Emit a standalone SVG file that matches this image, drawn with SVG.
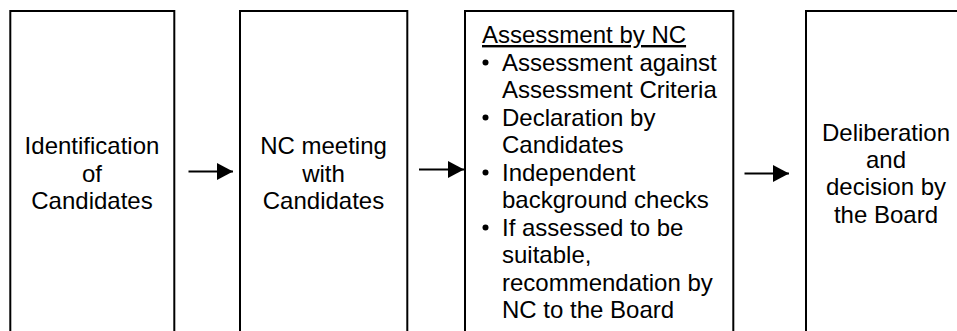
<svg xmlns="http://www.w3.org/2000/svg" width="957" height="331" viewBox="0 0 957 331">
<style>
.box{fill:#fff;stroke:#000;stroke-width:2}
.t{font-family:"Liberation Sans",Arial,sans-serif;font-size:24px;fill:#000}
.c{text-anchor:middle}
.conn{stroke:#000;stroke-width:2;fill:none}
</style>
<defs>
<marker id="ah" markerUnits="userSpaceOnUse" markerWidth="16" markerHeight="17" refX="16" refY="8.5" orient="auto">
<path d="M0,0 L16,8.5 L0,17 z" fill="#000"/>
</marker>
</defs>
<rect width="957" height="331" fill="#fff"/>
<g id="node-identification">
<rect class="box" x="10.3" y="11" width="164" height="340"/>
<text class="t c" x="92" y="154">Identification</text>
<text class="t c" x="92" y="181.5">of</text>
<text class="t c" x="92" y="209">Candidates</text>
</g>
<g id="node-nc-meeting">
<rect class="box" x="240" y="11" width="167.3" height="340"/>
<text class="t c" x="323.5" y="154">NC meeting</text>
<text class="t c" x="323.5" y="181.5">with</text>
<text class="t c" x="323.5" y="209">Candidates</text>
</g>
<g id="node-assessment">
<rect class="box" x="465" y="11" width="268.3" height="340"/>
<text class="t" x="482" y="43" text-decoration="underline">Assessment by NC</text>
<circle cx="485.5" cy="62.5" r="3"/>
<text class="t" x="502" y="70.5">Assessment against</text>
<text class="t" x="502" y="98">Assessment Criteria</text>
<circle cx="485.5" cy="117.5" r="3"/>
<text class="t" x="502" y="125.5">Declaration by</text>
<text class="t" x="502" y="153">Candidates</text>
<circle cx="485.5" cy="172.5" r="3"/>
<text class="t" x="502" y="180.5">Independent</text>
<text class="t" x="502" y="208">background checks</text>
<circle cx="485.5" cy="227.5" r="3"/>
<text class="t" x="502" y="235.5">If assessed to be</text>
<text class="t" x="502" y="263">suitable,</text>
<text class="t" x="502" y="290.5">recommendation by</text>
<text class="t" x="502" y="318">NC to the Board</text>
</g>
<g id="node-deliberation">
<rect class="box" x="806" y="11" width="170" height="340"/>
<text class="t c" x="886" y="140.5">Deliberation</text>
<text class="t c" x="886" y="168">and</text>
<text class="t c" x="886" y="195">decision by</text>
<text class="t c" x="886" y="222.5">the Board</text>
</g>
<g id="connectors">
<line class="conn" x1="188.5" y1="171.5" x2="233" y2="171.5" marker-end="url(#ah)"/>
<line class="conn" x1="419" y1="169.5" x2="464" y2="169.5" marker-end="url(#ah)"/>
<line class="conn" x1="744.5" y1="173.5" x2="789" y2="173.5" marker-end="url(#ah)"/>
</g>
</svg>
